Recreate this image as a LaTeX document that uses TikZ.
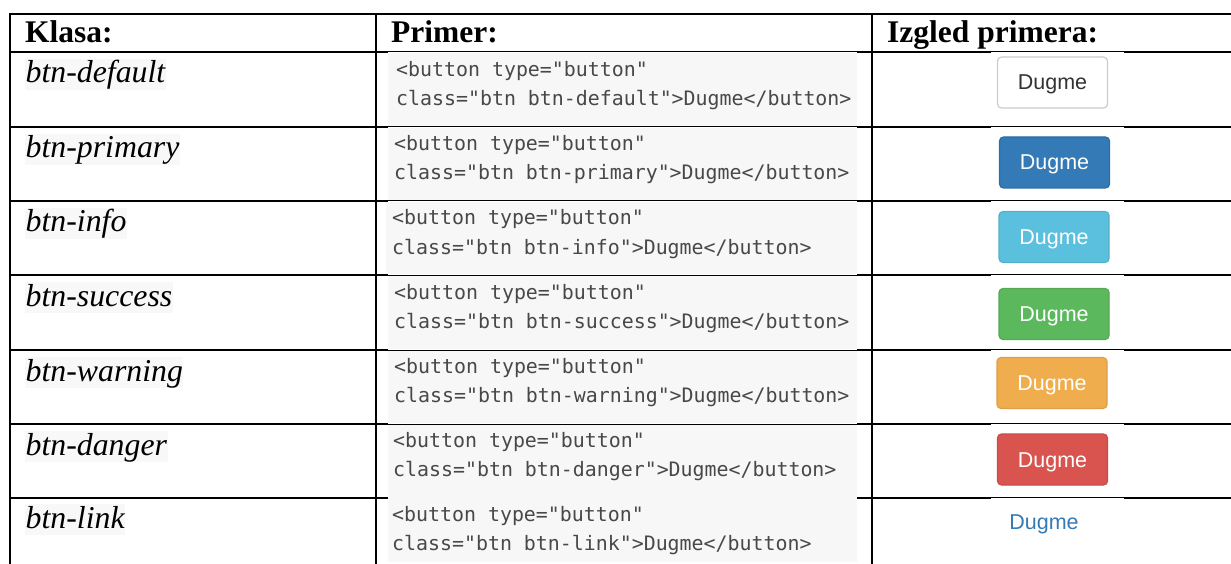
\documentclass[tikz,border=0pt]{standalone}
\usepackage{fontspec}
\setmainfont{Liberation Serif}
\newfontfamily\codefont{DejaVu Sans Mono}
\newfontfamily\btnfont{Liberation Sans}
\definecolor{codebg}{HTML}{F7F7F7}
\definecolor{codetext}{HTML}{484848}
\definecolor{labelbg}{HTML}{F8F8F8}
\definecolor{bdefault}{HTML}{CCCCCC}
\definecolor{bprimary}{HTML}{337AB7}
\definecolor{binfo}{HTML}{5BC0DE}
\definecolor{bsuccess}{HTML}{5CB85C}
\definecolor{bwarning}{HTML}{F0AD4E}
\definecolor{bdanger}{HTML}{D9534F}
\definecolor{btntext}{HTML}{333333}
\tikzset{
  rule/.style={line width=2.4pt, black},
  thinrule/.style={line width=1pt, black},
  head/.style={anchor=base west, inner sep=0pt, font=\fontsize{31.5}{36}\selectfont\bfseries},
  lbl/.style={anchor=base west, inner xsep=0.5pt, inner ysep=0pt, fill=labelbg,
    text height=24pt, text depth=7pt, font=\fontsize{31.8}{36}\selectfont\itshape},
  code/.style={anchor=base west, inner sep=0pt, text=codetext, font=\codefont\fontsize{19.9}{29}\selectfont},
  btn/.style={rounded corners=4pt, minimum width=110pt, minimum height=51pt, inner sep=0pt,
    text height=15pt, text depth=0pt,
    line width=1.2pt, font=\btnfont\fontsize{21.5}{24}\selectfont},
}
\begin{document}
\begin{tikzpicture}[x=1pt,y=-1pt]
\useasboundingbox[fill=white] (0,0) rectangle (1231,564);

% grey panels behind the code samples
\fill[codebg] (388,53) rectangle (857,126);
\fill[codebg] (388,128) rectangle (857,200);
\fill[codebg] (386,202) rectangle (857,274);
\fill[codebg] (388,276) rectangle (857,349);
\fill[codebg] (388,351) rectangle (857,423);
\fill[codebg] (388,425) rectangle (857,562);

% table rules
\draw[rule] (10,14) -- (1231,14);
\foreach \y in {52,127,201,275,350,424,498} {
  \draw[rule] (10,\y) -- (388,\y);
  \draw[rule] (857,\y) -- (991,\y);
  \draw[rule] (1124,\y) -- (1231,\y);
  \draw[thinrule] (991,\y-0.7) -- (1124,\y-0.7);
}
\foreach \y in {52,127,201,275,350,424} {
  \draw[thinrule] (388,\y) -- (857,\y);
}
\foreach \x in {10,376,872} {
  \draw[rule] (\x,12.8) -- (\x,564);
}

% header row
\node[head] (h1) at (25,43) {Klasa:};
\node[head] (h2) at (391,43) {Primer:};
\node[head] (h3) at (887,43) {Izgled primera:};

% class names
\node[lbl] (l1) at (25,83) {btn-default};
\node[lbl] (l2) at (25,158) {btn-primary};
\node[lbl] (l3) at (25,232) {btn-info};
\node[lbl] (l4) at (25,306) {btn-success};
\node[lbl] (l5) at (25,381) {btn-warning};
\node[lbl] (l6) at (25,455) {btn-danger};
\node[lbl] (l7) at (25,528) {btn-link};

% code samples
\node[code] (c1a) at (396,77) {<button type="button"};
\node[code] (c1b) at (396,106) {class="btn btn-default">Dugme</button>};
\node[code] (c2a) at (394,151) {<button type="button"};
\node[code] (c2b) at (394,180) {class="btn btn-primary">Dugme</button>};
\node[code] (c3a) at (392,225) {<button type="button"};
\node[code] (c3b) at (392,254) {class="btn btn-info">Dugme</button>};
\node[code] (c4a) at (394,299) {<button type="button"};
\node[code] (c4b) at (394,328) {class="btn btn-success">Dugme</button>};
\node[code] (c5a) at (394,373) {<button type="button"};
\node[code] (c5b) at (394,402) {class="btn btn-warning">Dugme</button>};
\node[code] (c6a) at (393,447) {<button type="button"};
\node[code] (c6b) at (393,476) {class="btn btn-danger">Dugme</button>};
\node[code] (c7a) at (392,521) {<button type="button"};
\node[code] (c7b) at (392,550) {class="btn btn-link">Dugme</button>};

% rendered buttons
\node[btn, draw=bdefault, fill=white, text=btntext] (b1) at (1052.5,82.5) {Dugme};
\node[btn, draw=bprimary!90!black, fill=bprimary, text=white] (b2) at (1054.5,162.5) {Dugme};
\node[btn, draw=binfo!92!black, fill=binfo, text=white] (b3) at (1054,237) {Dugme};
\node[btn, draw=bsuccess!92!black, fill=bsuccess, text=white] (b4) at (1054,314) {Dugme};
\node[btn, draw=bwarning!92!black, fill=bwarning, text=white] (b5) at (1052,383) {Dugme};
\node[btn, draw=bdanger!92!black, fill=bdanger, text=white] (b6) at (1052.5,459.5) {Dugme};
\node[btn, text=bprimary] (b7) at (1044,522) {Dugme};
\end{tikzpicture}
\end{document}
